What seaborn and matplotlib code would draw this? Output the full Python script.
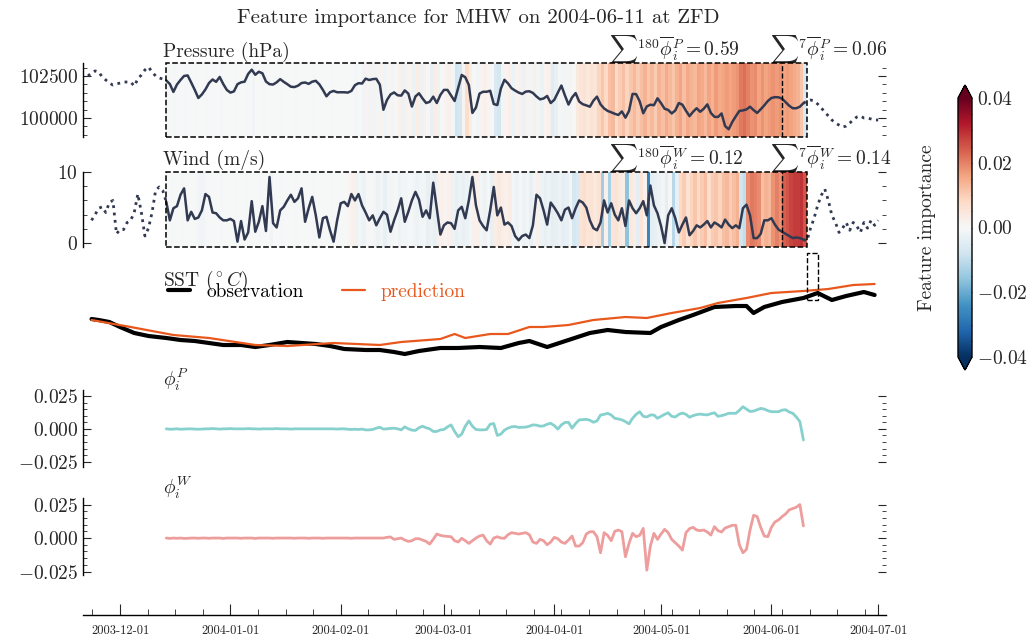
import numpy as np
import pandas as pd
import matplotlib
matplotlib.use("Agg")
import matplotlib.pyplot as plt
import matplotlib.dates as mdates
import matplotlib.ticker as mticker
from matplotlib.patches import Rectangle
import seaborn as sns

# ---------------------------------------------------------------- data
title = "Feature importance for MHW on 2004-06-11 at ZFD"
win_start = "2003-12-14"          # first day of the 180-day window
win_end = "2004-06-10"            # last day of the window
mhw_start, mhw_end = "2004-06-11", "2004-06-14"

pressure_start = "2003-11-22"     # daily pressure (Pa)
pressure = [
    102500, 102680, 102800, 102740, 102440, 102260, 102080, 101960, 102020, 102080, 102140,
    102140, 102140, 101900, 102320, 102560, 102860, 103030, 102740, 102500, 102380, 102320,
    102230, 102020, 101550, 101990, 102260, 102500, 102530, 102110, 101670, 101190,
    101400, 101700, 102080, 102290, 102150, 102440, 102020, 101670, 101510, 101580,
    102010, 102120, 102160, 102620, 102870, 102570, 102750, 102660, 102170, 102010,
    101990, 102120, 102310, 102150, 102010, 101860, 101840, 101920, 102080, 102110,
    102030, 102160, 102210, 102000, 101670, 101290, 101530, 101610, 101530, 101530,
    101530, 101510, 101610, 101950, 102070, 102050, 102340, 102260, 102310, 102330,
    101980, 100490, 101070, 101400, 101520, 101350, 101330, 101640, 101450, 100680,
    101280, 101470, 101160, 100890, 100960, 101270, 100890, 101370, 101670, 101670,
    101340, 101010, 101790, 102560, 102420, 101960, 100300, 100620, 101450, 101560,
    101560, 101620, 100830, 100770, 101750, 102270, 102060, 101770, 101630, 101510,
    101430, 101570, 101590, 101490, 101280, 101110, 101160, 101310, 100890, 101080,
    101500, 101930, 101340, 100800, 101220, 101480, 100980, 100820, 100750, 100670,
    101030, 101270, 100810, 100570, 100420, 100340, 100250, 100180, 100390, 100020,
    100420, 101430, 101420, 100990, 100280, 100690, 100790, 100760, 101170, 100880,
    100550, 100480, 100270, 100450, 100890, 100790, 100430, 100110, 100370, 100580,
    100370, 100550, 100810, 100300, 100070, 100060, 100270, 99520, 99330, 99760,
    100100, 100420, 100450, 100510, 100670, 100470, 100300, 100520, 100750, 101010,
    101190, 101240, 101230, 101150, 100940, 100730, 100580, 100580, 100670, 100880,
    101010, 101070, 101010, 100830, 100600, 100360, 100120, 99880, 99700, 99580, 99460,
    99520, 99700, 99880, 100060, 100120, 100000, 100000, 99940, 99880, 99880,
]

wind_start = "2003-11-23"         # daily wind speed (m/s)
wind = [
    3.2, 4.0, 4.9, 5.1, 4.3, 5.7, 6.0, 1.3, 1.9, 1.9, 2.9, 3.2, 4.3, 6.9, 4.3, 1.0, 2.1, 4.3, 7.4, 7.9, 7.4,
    5.8, 3.2, 4.9, 5.2, 6.8, 7.7, 3.2, 4.4, 3.4, 3.6,
    4.6, 6.9, 6.5, 4.3, 4.2, 3.6, 3.2, 3.2, 3.4, 3.1,
    0.2, 3.1, 0.5, 1.5, 5.9, 1.6, 3.0, 5.2, 1.7, 9.3,
    2.8, 2.2, 4.6, 5.1, 6.0, 6.8, 5.8, 6.3, 7.7, 3.0,
    4.9, 6.5, 3.9, 0.8, 3.5, 3.7, 1.8, 0.2, 3.2, 5.6,
    5.8, 5.2, 6.9, 6.0, 6.9, 5.3, 4.3, 3.2, 3.9, 2.5,
    3.5, 4.4, 4.0, 1.6, 3.2, 4.6, 6.3, 3.0, 4.4, 6.0,
    7.2, 6.1, 3.7, 4.6, 3.5, 8.5, 4.9, 1.2, 2.5, 2.9,
    2.8, 2.0, 4.6, 5.1, 3.5, 6.0, 9.3, 5.3, 3.2, 2.4,
    1.8, 4.6, 7.9, 3.9, 5.0, 2.6, 2.9, 2.4, 1.0, 0.4,
    1.0, 1.2, 0.7, 2.5, 6.8, 6.3, 4.6, 2.6, 5.7, 5.0,
    4.2, 3.2, 4.7, 5.0, 3.5, 4.9, 6.0, 5.7, 5.0, 3.2,
    2.1, 1.8, 2.9, 6.0, 4.3, 5.6, 4.0, 3.2, 4.9, 2.4,
    6.0, 4.9, 4.2, 4.9, 5.9, 3.9, 8.1, 5.3, 4.2, 2.4,
    0.0, 3.9, 4.9, 3.5, 1.5, 2.6, 3.6, 1.1, 1.7, 2.5,
    2.2, 2.6, 3.1, 2.2, 2.9, 2.6, 2.2, 3.3, 2.6, 2.1,
    2.5, 2.1, 4.9, 5.4, 3.9, 0.7, 0.7, 1.3, 3.2, 3.2,
    3.5, 2.6, 1.9, 1.6, 1.3, 1.0, 0.7, 0.8, 0.7, 0.5,
    0.3, 2.1, 3.5, 5.3, 6.7, 7.6, 6.0, 3.9, 2.9, 1.5, 2.1,
    2.9, 1.8, 2.9, 2.4, 1.5, 2.9, 2.1, 3.2, 2.5, 3.2,
]

sst_obs_dates = [
    "2003-11-23", "2003-11-25", "2003-11-28", "2003-12-01", "2003-12-05", "2003-12-09",
    "2003-12-14", "2003-12-18", "2003-12-22", "2003-12-26", "2003-12-30", "2004-01-04",
    "2004-01-08", "2004-01-12", "2004-01-17", "2004-01-21", "2004-01-25", "2004-01-29",
    "2004-02-02", "2004-02-08", "2004-02-12", "2004-02-16", "2004-02-19", "2004-02-23",
    "2004-02-29", "2004-03-05", "2004-03-11", "2004-03-17", "2004-03-22", "2004-03-25",
    "2004-03-30", "2004-04-05", "2004-04-11", "2004-04-16", "2004-04-21", "2004-04-28",
    "2004-05-01", "2004-05-06", "2004-05-10", "2004-05-16", "2004-05-22", "2004-05-25",
    "2004-05-27", "2004-05-30", "2004-06-04", "2004-06-10", "2004-06-14", "2004-06-18",
    "2004-06-22", "2004-06-27", "2004-06-30",
]
sst_obs = [
    18.6, 18.5, 18.3, 17.8, 17.2, 16.9, 16.7, 16.5, 16.4, 16.2, 16.0, 16.0,
    15.8, 16.0, 16.3, 16.2, 16.1, 15.9, 15.6, 15.5, 15.5, 15.3, 15.1, 15.4,
    15.7, 15.7, 15.8, 15.7, 16.2, 16.4, 15.8, 16.5, 17.2, 17.5, 17.3, 17.2,
    17.8, 18.5, 19.0, 19.8, 19.9, 19.9, 19.2, 19.8, 20.3, 20.7, 21.2, 20.5,
    20.9, 21.3, 21.0,
]
sst_pred_dates = [
    "2003-11-23", "2003-12-04", "2003-12-16", "2003-12-26", "2004-01-08", "2004-01-17",
    "2004-01-30", "2004-02-12", "2004-02-18", "2004-02-29", "2004-03-04", "2004-03-07",
    "2004-03-14", "2004-03-19", "2004-03-25", "2004-03-29", "2004-04-05", "2004-04-12",
    "2004-04-21", "2004-04-27", "2004-05-04", "2004-05-12", "2004-05-17", "2004-05-25",
    "2004-06-01", "2004-06-10", "2004-06-17", "2004-06-24", "2004-06-30",
]
sst_pred = [
    18.5, 17.8, 17.0, 16.7, 16.0, 15.9, 16.2, 16.0, 16.3, 16.6, 17.1, 16.7,
    17.1, 17.1, 17.8, 17.8, 18.0, 18.5, 18.8, 18.7, 19.2, 19.7, 20.2, 20.7,
    21.2, 21.4, 21.6, 22.0, 22.1,
]

# daily SHAP values over the 180-day window
phi_p = [
    0.0, -0.0003, -0.0002, 0.0, -0.0003, -0.0002, 0.0, 0.0, -0.0002, -0.0003,
    -0.0002, 0.0, 0.0, 0.0002, 0.0, -0.0002, 0.0, 0.0, 0.0002, 0.0,
    0.0, 0.0, 0.0, 0.0002, 0.0, 0.0, -0.0002, 0.0, 0.0, 0.0,
    0.0, 0.0002, 0.0, 0.0, 0.0, -0.0002, 0.0, 0.0, 0.0, 0.0,
    0.0, 0.0, 0.0, 0.0, 0.0, 0.0, 0.0, 0.0, -0.0002, 0.0,
    0.0, -0.0003, -0.0005, -0.0003, -0.0005, -0.0002, -0.0008, -0.0008, -0.0005, 0.0005,
    0.0012, -0.0002, 0.0, 0.0003, 0.0005, 0.0, -0.0008, 0.0015, 0.0, -0.0010,
    -0.0012, 0.0008, 0.0020, 0.0008, 0.0, -0.0020, -0.0020, -0.0008, -0.0005, 0.0015,
    0.0030, -0.0020, -0.0060, -0.0040, 0.0020, 0.0060, 0.0020, -0.0005, -0.0008, -0.0008,
    -0.0005, 0.0035, 0.0040, -0.0050, -0.0040, -0.0010, 0.0005, 0.0015, 0.0018, 0.0010,
    0.0012, 0.0013, 0.0020, 0.0030, 0.0028, 0.0020, 0.0022, 0.0035, 0.0042, 0.0025,
    -0.0002, 0.0030, 0.0048, 0.0050, 0.0005, 0.0040, 0.0068, 0.0070, 0.0072, 0.0065,
    0.0050, 0.0060, 0.0105, 0.0110, 0.0118, 0.0105, 0.0080, 0.0075, 0.0068, 0.0055,
    0.0038, 0.0080, 0.0110, 0.0130, 0.0095, 0.0090, 0.0105, 0.0105, 0.0080, 0.0095,
    0.0110, 0.0122, 0.0095, 0.0090, 0.0110, 0.0120, 0.0110, 0.0088, 0.0100, 0.0108,
    0.0112, 0.0108, 0.0106, 0.0115, 0.0122, 0.0095, 0.0100, 0.0108, 0.0118, 0.0118,
    0.0118, 0.0140, 0.0168, 0.0150, 0.0132, 0.0135, 0.0145, 0.0155, 0.0150, 0.0138,
    0.0130, 0.0130, 0.0130, 0.0142, 0.0145, 0.0128, 0.0118, 0.0090, 0.0055, -0.0085,
]
phi_w = [
    0.0, -0.0003, 0.0, -0.0002, 0.0, -0.0003, -0.0002, 0.0, 0.0, -0.0002,
    0.0, 0.0, -0.0002, 0.0, 0.0, 0.0, -0.0003, 0.0, 0.0, 0.0,
    0.0, -0.0002, 0.0, 0.0, 0.0, -0.0003, 0.0, 0.0, 0.0, 0.0,
    -0.0002, 0.0, 0.0, 0.0, 0.0, 0.0, -0.0002, 0.0, 0.0, 0.0,
    -0.0002, 0.0, 0.0, 0.0, -0.0002, 0.0, 0.0, 0.0, 0.0, 0.0,
    0.0, 0.0, -0.0002, 0.0, 0.0, 0.0, 0.0, 0.0, 0.0, 0.0,
    0.0, 0.0, 0.0005, 0.0008, -0.0010, -0.0005, 0.0, -0.0015, -0.0025, -0.0020,
    -0.0005, -0.0005, -0.0015, -0.0025, -0.0045, -0.0010, 0.0030, 0.0020, 0.0015, 0.0012,
    0.0010, -0.0020, -0.0030, -0.0002, -0.0020, -0.0040, -0.0020, 0.0, 0.0015, 0.0022,
    -0.0020, -0.0045, 0.0, 0.0010, 0.0, -0.0002, 0.0025, 0.0040, 0.0035, 0.0030,
    0.0035, 0.0040, 0.0025, -0.0030, -0.0040, -0.0010, -0.0020, -0.0050, -0.0030, 0.0005,
    -0.0005, -0.0030, -0.0040, -0.0015, 0.0015, -0.0060, -0.0060, -0.0035, 0.0030, 0.0047,
    0.0047, 0.0010, -0.0110, 0.0040, 0.0020, -0.0020, 0.0050, 0.0060, 0.0047, -0.0140,
    -0.0040, 0.0035, 0.0010, 0.0020, 0.0072, -0.0240, -0.0060, 0.0035, -0.0010, 0.0030,
    0.0065, 0.0040, -0.0010, -0.0035, -0.0060, -0.0090, 0.0040, 0.0070, 0.0080, 0.0060,
    0.0055, 0.0060, 0.0045, 0.0022, 0.0085, 0.0055, 0.0045, 0.0075, 0.0085, 0.0095,
    0.0095, -0.0050, -0.0110, -0.0085, 0.0060, 0.0170, 0.0160, 0.0080, 0.0015, 0.0010,
    0.0080, 0.0120, 0.0135, 0.0160, 0.0180, 0.0210, 0.0220, 0.0230, 0.0250, 0.0090,
]

# mean feature importance shown as colour strips
imp_p = [
    -0.0005, -0.0003, -0.0005, -0.0003, -0.0003, -0.0005, -0.0003, -0.0003, -0.0005, -0.0003,
    -0.0003, -0.0005, -0.0003, -0.0003, -0.0003, -0.0005, -0.0003, -0.0003, -0.0003, -0.0005,
    -0.0003, -0.0003, -0.0005, -0.0003, -0.0015, -0.0003, -0.0003, -0.0005, -0.0003, -0.0003,
    -0.0003, -0.0003, -0.0005, -0.0003, -0.0003, -0.0003, -0.0005, -0.0003, -0.0003, -0.0003,
    -0.0003, -0.0005, -0.0003, -0.0003, -0.0003, -0.0003, -0.0005, -0.0003, -0.0003, -0.0003,
    -0.0003, -0.0003, -0.0005, -0.0008, -0.0003, -0.0015, 0.001, -0.0015, 0.0015, -0.001,
    0.001, -0.0015, 0.0005, -0.001, 0.0, 0.002, -0.002, 0.0015, 0.001, -0.002,
    0.003, -0.002, 0.002, 0.0, -0.003, 0.003, -0.002, 0.0, 0.001, 0.002,
    -0.001, -0.008, -0.007, 0.001, 0.007, 0.003, 0.0, -0.001, 0.001, 0.002,
    0.001, 0.0, -0.006, -0.007, -0.001, 0.001, 0.002, -0.002, 0.001, 0.002,
    -0.002, 0.001, -0.001, 0.002, -0.001, -0.002, 0.001, 0.002, -0.005, -0.003,
    0.0, -0.001, -0.001, 0.001, 0.0, 0.004, 0.005, 0.006, 0.004, 0.006,
    0.005, 0.009, 0.011, 0.008, 0.012, 0.013, 0.008, 0.010, 0.012, 0.009,
    0.011, 0.013, 0.010, 0.012, 0.014, 0.011, 0.013, 0.010, 0.014, 0.012,
    0.015, 0.013, 0.011, 0.014, 0.016, 0.012, 0.015, 0.014, 0.013, 0.016,
    0.015, 0.013, 0.016, 0.014, 0.017, 0.015, 0.016, 0.017, 0.016, 0.017,
    0.018, 0.021, 0.022, 0.020, 0.018, 0.019, 0.016, 0.018, 0.016, 0.017,
    0.018, 0.017, 0.018, 0.016, 0.017, 0.016, 0.015, 0.014, 0.011, -0.006,
]
imp_w = [
    -0.0003, -0.0005, -0.0003, -0.0003, -0.0005, -0.0003, -0.0003, -0.0003, -0.0005, -0.0015,
    -0.0015, -0.0005, -0.0003, -0.0003, -0.0003, -0.0005, -0.0003, -0.0003, -0.0003, -0.0005,
    -0.0003, -0.0003, -0.0005, -0.0003, -0.0003, -0.0003, -0.0005, -0.0003, -0.0003, -0.0015,
    -0.0003, -0.0003, -0.0005, -0.0003, -0.0003, -0.0003, -0.0005, -0.0003, -0.0003, -0.0003,
    -0.0003, -0.0005, -0.0003, -0.0003, -0.0003, -0.0003, -0.0005, -0.0003, -0.0003, -0.0003,
    -0.0003, 0.001, 0.002, -0.002, -0.001, -0.002, -0.0005, 0.0, -0.001, -0.002,
    -0.001, -0.003, -0.001, -0.001, 0.0, -0.002, -0.001, -0.001, -0.0005, -0.001,
    -0.002, -0.001, -0.001, -0.003, -0.002, -0.003, 0.002, 0.002, 0.001, 0.002,
    -0.002, -0.003, -0.002, -0.003, -0.002, -0.001, 0.002, 0.002, -0.001, -0.002,
    0.0, -0.003, 0.003, 0.004, 0.003, 0.002, 0.003, -0.001, -0.002, 0.0,
    -0.002, -0.001, -0.003, -0.001, 0.002, -0.002, -0.003, -0.002, -0.004, -0.003,
    -0.002, -0.004, -0.003, -0.001, -0.007, -0.006, 0.006, 0.007, 0.005, 0.006,
    0.004, 0.006, -0.014, 0.002, -0.013, 0.005, 0.006, 0.004, 0.003, -0.016,
    0.004, 0.003, -0.004, 0.005, 0.002, -0.026, -0.004, -0.003, -0.002, -0.001,
    -0.004, 0.0, -0.011, -0.003, 0.008, 0.010, 0.006, 0.009, 0.011, 0.008,
    0.010, 0.012, 0.007, 0.010, 0.011, 0.009, 0.012, 0.013, 0.010, 0.012,
    0.014, -0.008, -0.010, 0.019, 0.021, 0.020, 0.019, 0.012, 0.014, 0.013,
    0.018, 0.020, 0.018, 0.024, 0.025, 0.027, 0.028, 0.028, 0.029, 0.025,
]

sum_labels_p = [r"$\sum{}^{180}\overline{\phi}_i^P = 0.59$", r"$\sum{}^{7}\overline{\phi}_i^P = 0.06$"]
sum_labels_w = [r"$\sum{}^{180}\overline{\phi}_i^W = 0.12$", r"$\sum{}^{7}\overline{\phi}_i^W = 0.14$"]
cbar_ticks = [-0.04, -0.02, 0.00, 0.02, 0.04]

# ---------------------------------------------------------------- style
sns.set_style("ticks")
plt.rcParams.update({
    "font.family": "serif",
    "font.serif": ["cmr10"],
    "mathtext.fontset": "cm",
    "axes.formatter.use_mathtext": True,
    "font.size": 14,
    "xtick.direction": "in",
    "ytick.direction": "in",
    "xtick.major.size": 6, "ytick.major.size": 6,
    "xtick.minor.size": 3, "ytick.minor.size": 3,
    "axes.linewidth": 1.0,
    "axes.edgecolor": "black",
})

NAVY = "#323a52"
ORANGE = "#e8581c"
TEAL = "#86d0cd"
PINK = "#ee9d9d"
CMAP = "RdBu_r"
VMIN, VMAX = -0.04, 0.04

D = mdates.date2num
t_p = D(pd.date_range(pressure_start, periods=len(pressure), freq="D"))
t_w = D(pd.date_range(wind_start, periods=len(wind), freq="D"))
t_phi = D(pd.date_range(win_start, periods=len(phi_p), freq="D"))
edges = D(pd.date_range(win_start, periods=len(imp_p) + 1, freq="D"))
t0, t1 = D(pd.Timestamp(win_start)), D(pd.Timestamp(win_end))
recent = t1 - 6
press = np.array(pressure, float)
wnd = np.array(wind, float)

ref = D(pd.Timestamp("2003-12-01"))
xlim = (ref - 10.4, ref + 215.2)

fig = plt.figure(figsize=(10.27, 6.36), dpi=100)
L, W = 83 / 1027, (886 - 83) / 1027
def pos(top, bot):
    return [L, 1 - bot / 636, W, (bot - top) / 636]

ax_p = fig.add_axes(pos(63, 137))
ax_w = fig.add_axes(pos(172, 247))
ax_s = fig.add_axes(pos(253, 375))
ax_fp = fig.add_axes(pos(390, 467))
ax_fw = fig.add_axes(pos(498, 575))
ax_d = fig.add_axes([L, 1 - 615 / 636, W, 0.0001])
cax = fig.add_axes([958 / 1027, 1 - 370 / 636, 14 / 1027, 285 / 636])

def yfmt(fmt):
    return mticker.FuncFormatter(lambda v, p: "$" + fmt.format(v) + "$")

def style_panel(ax, major, minor, fmt):
    ax.set_xlim(*xlim)
    for s in ("top", "right", "bottom"):
        ax.spines[s].set_visible(False)
    ax.tick_params(axis="x", which="both", bottom=False, labelbottom=False)
    ax.yaxis.set_major_locator(mticker.MultipleLocator(major))
    ax.yaxis.set_minor_locator(mticker.MultipleLocator(minor))
    ax.yaxis.set_major_formatter(yfmt(fmt))
    ax.tick_params(axis="y", which="both", left=True, right=True, direction="in", labelsize=14)
    ax.set_facecolor("none")

def driver_panel(ax, t, vals, imp, ylim, label, sums):
    ax.set_ylim(*ylim)
    mesh = ax.pcolormesh(edges, list(ylim), np.array(imp)[None, :], cmap=CMAP,
                         vmin=VMIN, vmax=VMAX, shading="flat", zorder=0)
    before, inside, after = t <= t0, (t >= t0) & (t <= t1), t >= t1
    for m, ls in ((before, ":"), (after, ":")):
        sns.lineplot(x=t[m], y=vals[m], ax=ax, color=NAVY, lw=2.0, linestyle=ls, zorder=3)
    sns.lineplot(x=t[inside], y=vals[inside], ax=ax, color=NAVY, lw=1.8, zorder=3)
    ax.add_patch(Rectangle((t0, ylim[0]), t1 + 1 - t0, ylim[1] - ylim[0], fill=False,
                           ls="--", lw=1.1, ec="black", zorder=4, clip_on=False))
    ax.plot([recent, recent], list(ylim), ls="--", lw=1.0, color="black", zorder=4)
    tr = ax.get_xaxis_transform()
    ax.text(t0 - 1, 1.02, label, transform=tr, ha="left", va="bottom", fontsize=14)
    ax.text(ref + 137.5, 0.97, sums[0], transform=tr, ha="left", va="bottom", fontsize=14)
    ax.text(ref + 182.5, 0.97, sums[1], transform=tr, ha="left", va="bottom", fontsize=14)
    ax.set_xlabel(""); ax.set_ylabel("")
    return mesh

style_panel(ax_p, 2500, 500, "{:.0f}")
mesh = driver_panel(ax_p, t_p, press, imp_p, (98870, 103270), "Pressure (hPa)", sum_labels_p)
style_panel(ax_w, 10, 2, "{:.0f}")
driver_panel(ax_w, t_w, wnd, imp_w, (-0.55, 10.0), "Wind (m/s)", sum_labels_w)

# SST panel
ax_s.set_xlim(*xlim)
ax_s.set_ylim(13.0, 25.2)
ax_s.axis("off")
sns.lineplot(x=D(pd.to_datetime(sst_obs_dates)), y=sst_obs, ax=ax_s, color="black", lw=3.0,
             label="observation", zorder=3)
sns.lineplot(x=D(pd.to_datetime(sst_pred_dates)), y=sst_pred, ax=ax_s, color=ORANGE, lw=1.6,
             label="prediction", zorder=4)
ax_s.legend(loc="center left", bbox_to_anchor=(0.106, 0.68), ncol=2, frameon=False,
            borderpad=0, borderaxespad=0, handlelength=1.15, handletextpad=0.8,
            columnspacing=2.0, labelcolor="linecolor", fontsize=14)
ax_s.text(t0 - 1, 0.67, r"SST ($^\circ C$)", transform=ax_s.get_xaxis_transform(),
          ha="left", va="bottom", fontsize=14)
m0, m1 = D(pd.Timestamp(mhw_start)), D(pd.Timestamp(mhw_end))
ax_s.add_patch(Rectangle((m0, 20.5), m1 - m0, 4.7, fill=False, ls="--", lw=1.0,
                         ec="black", zorder=5, clip_on=False))

# SHAP panels
for ax, vals, col, lab in ((ax_fp, phi_p, TEAL, r"$\phi_i^P$"), (ax_fw, phi_w, PINK, r"$\phi_i^W$")):
    style_panel(ax, 0.025, 0.005, "{:.3f}")
    sns.lineplot(x=t_phi, y=vals, ax=ax, color=col, lw=2.0)
    ax.set_xlabel(""); ax.set_ylabel("")
    ax.text(t0 - 1, 0.96, lab, transform=ax.get_xaxis_transform(), ha="left", va="bottom",
            fontsize=14)
ax_fp.set_ylim(-0.029, 0.0295)
ax_fw.set_ylim(-0.0276, 0.0299)

# shared date axis
ax_d.set_xlim(*xlim)
ax_d.set_yticks([])
for s in ("top", "left", "right"):
    ax_d.spines[s].set_visible(False)
ax_d.xaxis.set_major_locator(mdates.MonthLocator())
ax_d.xaxis.set_major_formatter(mdates.DateFormatter("%Y-%m-%d"))
ax_d.xaxis.set_minor_locator(mticker.AutoMinorLocator(4))
ax_d.tick_params(axis="x", which="both", direction="in", labelsize=9, pad=7)
ax_d.tick_params(axis="x", which="major", length=8)
ax_d.tick_params(axis="x", which="minor", length=4)

# colour bar
cb = fig.colorbar(mesh, cax=cax, extend="both")
cb.set_ticks(cbar_ticks)
cb.ax.yaxis.set_major_formatter(yfmt("{:.2f}"))
cb.ax.yaxis.set_minor_locator(mticker.MultipleLocator(0.005))
cb.ax.tick_params(which="both", direction="in", right=True, left=False, labelsize=14)
cb.set_label("Feature importance", fontsize=14, labelpad=16)
cb.ax.yaxis.set_label_position("left")

fig.text(478 / 1027, 1 - 18 / 636, title, ha="center", va="center", fontsize=15)

fig.savefig("out.png", dpi=100)
